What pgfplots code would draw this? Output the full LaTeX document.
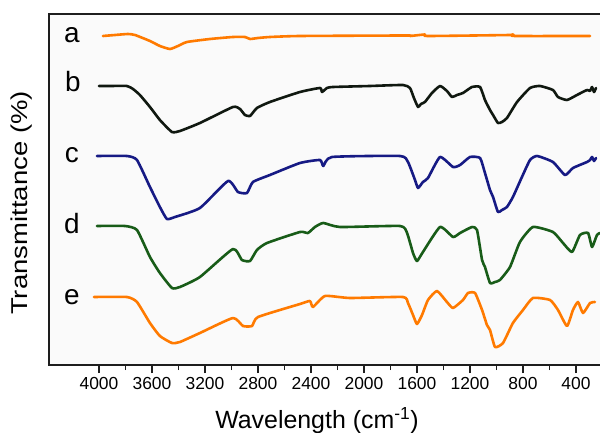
\documentclass[border=0pt]{standalone}
\usepackage{pgfplots}
\pgfplotsset{compat=1.18}
\usepackage{fontspec}
\setmainfont{Liberation Sans}

\definecolor{specorange}{RGB}{255,122,0}
\definecolor{specblack}{RGB}{16,24,16}
\definecolor{specblue}{RGB}{22,26,132}
\definecolor{specgreen}{RGB}{24,92,24}
\definecolor{axisgray}{RGB}{30,30,30}

\begin{document}
\begin{tikzpicture}
\path[use as bounding box] (-49bp,-68bp) rectangle (551bp,365bp);
\begin{axis}[
  at={(0,0)}, anchor=south west,
  scale only axis, width=571bp, height=351bp,
  x dir=reverse, xmin=68, xmax=4377,
  ymin=68, ymax=419,
  axis background/.style={fill=black!2},
  axis line style={line width=1.8bp, draw=axisgray},
  xtick={400,800,...,4000},
  minor x tick num=1,
  xtick pos=left,
  ytick=\empty,
  tick align=outside,
  major tick length=8bp, minor tick length=5bp,
  every tick/.style={line width=1.5bp, axisgray},
  /pgf/number format/assume math mode=true,
  /pgf/number format/set thousands separator={},
  xticklabel={\fontsize{17.5}{20}\selectfont\pgfmathprintnumber{\tick}},
  xticklabel style={yshift=-1bp},
  xlabel={Wavelength (cm\textsuperscript{-1})},
  xlabel style={font=\fontsize{25}{30}\selectfont, at={(axis cs:2355,68)}, anchor=base, yshift=-63bp},
  ylabel={\scalebox{1.2}[1]{Transmittance (\%)}},
  ylabel style={font=\fontsize{23}{28}\selectfont, at={(axis cs:4581,230)}, anchor=center},
  every axis plot/.append style={line width=2.6bp, line join=round, line cap=round, smooth, tension=0.3},
  clip=false,
]

% a
\addplot[specorange] coordinates {
(3970,397) (3879,398) (3781,399) (3728,398) (3615,392) (3540,387) (3464,384)
(3404,387) (3336,391) (3162,394) (2989,396) (2898,396) (2860,394) (2800,395)
(2710,396) (2483,397) (1675,397.5) (1653,397) (1540,398.5) (1517,397)
(898,398) (883,398.5) (860,397) (294,397)
};

% b
\addplot[specblack] coordinates {
(4000,347) (3917,347) (3789,347) (3743,344) (3691,338) (3615,326) (3540,313)
(3449,301) (3389,302) (3238,310) (2989,326) (2936,324) (2898,318) (2860,317)
(2808,325) (2710,331) (2483,341) (2332,345) (2317,341) (2279,345) (2234,346)
(1955,347) (1706,348) (1653,345) (1623,335) (1592,326) (1570,329) (1540,331)
(1487,340) (1426,347) (1374,342) (1336,336) (1298,338) (1253,340) (1185,346)
(1124,346) (1087,333) (1049,323) (1026,318) (989,310) (959,311) (921,315)
(845,331) (747,345) (672,347) (574,343) (536,336) (468,333) (393,338)
(317,343) (294,342) (279,346) (264,341) (249,345)
};

% c
\addplot[specblue] coordinates {
(4015,277) (3789,277) (3713,273) (3615,246) (3540,226) (3487,214) (3426,216)
(3238,225) (3026,252) (2951,241) (2883,240) (2838,251) (2710,258) (2483,270)
(2332,273) (2307,267) (2242,276) (1728,277) (1668,271) (1615,253) (1592,245)
(1555,251) (1517,255) (1426,276) (1328,266) (1275,268) (1200,276) (1124,275)
(1087,260) (1049,243) (1026,236) (989,221) (959,223) (921,226) (876,236)
(808,256) (747,273) (694,277) (574,271) (483,258) (423,265) (317,271)
(294,273) (279,276) (264,272) (249,275)
};

% d
\addplot[specgreen] coordinates {
(4015,207) (3804,207) (3713,203) (3615,176) (3540,160) (3449,145) (3389,146)
(3238,156) (2989,184) (2921,173) (2860,172) (2808,183) (2732,190) (2483,201)
(2423,200) (2370,206) (2307,210) (2181,206) (1728,207) (1675,200) (1630,180)
(1600,172) (1555,181) (1426,206) (1328,196) (1275,200) (1185,206) (1147,203)
(1109,173) (1087,166) (1049,150) (1011,151) (974,153) (898,166) (823,191)
(725,206) (574,201) (498,190) (430,181) (370,198) (309,200) (279,186)
(242,198) (219,200)
};

% e
\addplot[specorange] coordinates {
(4038,136) (3789,136) (3713,131) (3615,110) (3540,97) (3449,90) (3389,91)
(3238,100) (2989,115) (2913,107) (2845,107) (2800,116) (2483,129) (2408,132)
(2385,126) (2294,137) (2106,135) (1706,136) (1668,130) (1630,118) (1600,109)
(1562,118) (1517,133) (1449,142) (1374,131) (1328,125) (1253,133) (1215,140)
(1162,140) (1109,123) (1072,108) (1049,103) (1011,86) (951,90) (876,110)
(800,123) (725,135) (596,133) (536,123) (468,107) (423,123) (385,131)
(347,120) (294,130) (257,131)
};

% curve letters
\begin{scope}[every node/.style={font=\fontsize{28}{32}\selectfont, inner sep=0pt, anchor=center}]
\node at (axis cs:4204,398) {a};
\node at (axis cs:4196,351) {b};
\node at (axis cs:4204,278) {c};
\node at (axis cs:4204,209) {d};
\node at (axis cs:4204,136) {e};
\end{scope}
\end{axis}
\end{tikzpicture}
\end{document}
